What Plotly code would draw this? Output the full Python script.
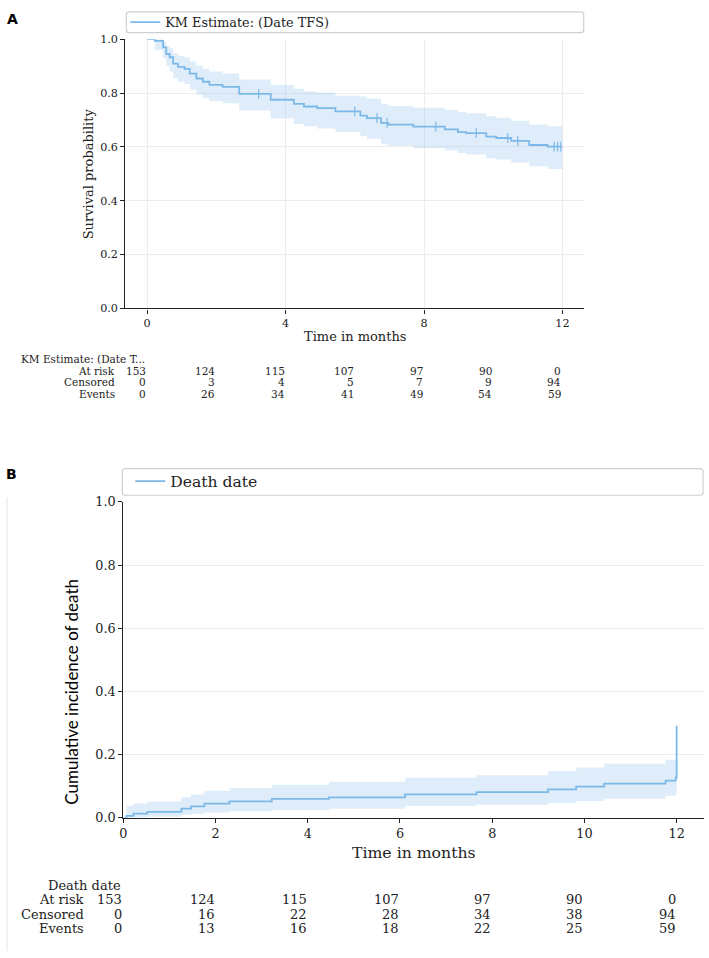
import numpy as np
import plotly.graph_objects as go

# ---------------- data ----------------
# Panel A: Kaplan-Meier estimate (Date TFS)
a_time = [0, 0.22, 0.46, 0.55, 0.65, 0.75, 0.89, 1.08, 1.23, 1.42, 1.61, 1.80, 2.18, 2.66,
          3.57, 4.24, 4.53, 4.91, 5.44, 6.16, 6.35, 6.76, 6.97, 7.69, 8.60, 8.98, 9.22,
          9.80, 10.09, 10.52, 11.04, 11.57, 12.0]
a_surv = [1.0, 0.994, 0.970, 0.945, 0.933, 0.909, 0.897, 0.890, 0.872, 0.854, 0.842, 0.830,
          0.823, 0.797, 0.775, 0.760, 0.750, 0.744, 0.732, 0.716, 0.707, 0.689, 0.683,
          0.675, 0.665, 0.655, 0.651, 0.638, 0.633, 0.622, 0.607, 0.601, 0.601]
a_upper = [1.0, 1.0, 0.990, 0.975, 0.966, 0.948, 0.938, 0.932, 0.917, 0.901, 0.890, 0.880,
           0.873, 0.850, 0.830, 0.816, 0.806, 0.801, 0.790, 0.787, 0.780, 0.760, 0.752,
           0.745, 0.738, 0.730, 0.725, 0.714, 0.708, 0.697, 0.683, 0.677, 0.677]
a_lower = [1.0, 0.960, 0.930, 0.900, 0.880, 0.855, 0.842, 0.834, 0.813, 0.795, 0.782, 0.770,
           0.762, 0.735, 0.705, 0.685, 0.677, 0.668, 0.655, 0.640, 0.630, 0.610, 0.604,
           0.595, 0.587, 0.577, 0.572, 0.558, 0.553, 0.542, 0.528, 0.518, 0.518]
a_censor_time = [3.22, 6.00, 6.64, 6.93, 8.34, 9.51, 10.42, 10.71, 11.76, 11.86, 11.95]

# Panel B: cumulative incidence of death
b_time = [0, 0.07, 0.22, 0.52, 1.26, 1.47, 1.76, 2.30, 3.22, 4.46, 6.11, 7.66, 9.21, 9.82,
          10.43, 11.76, 11.98, 12.0]
b_cif = [0, 0.006, 0.013, 0.019, 0.029, 0.036, 0.045, 0.052, 0.060, 0.065, 0.074, 0.081,
         0.090, 0.099, 0.108, 0.118, 0.127, 0.291]
b_upper = [0, 0.038, 0.045, 0.052, 0.065, 0.074, 0.086, 0.094, 0.105, 0.114, 0.127, 0.135,
           0.148, 0.159, 0.171, 0.184, 0.190, 0.376]
b_lower = [0, 0.0, 0.001, 0.003, 0.010, 0.013, 0.017, 0.021, 0.024, 0.029, 0.037, 0.041,
           0.047, 0.053, 0.060, 0.070, 0.075, 0.210]

# At-risk tables
table_times = [0, 2, 4, 6, 8, 10, 12]
table_rows = ["At risk", "Censored", "Events"]
a_at_risk = [153, 124, 115, 107, 97, 90, 0]
a_censored = [0, 3, 4, 5, 7, 9, 94]
a_events = [0, 26, 34, 41, 49, 54, 59]
b_at_risk = [153, 124, 115, 107, 97, 90, 0]
b_censored = [0, 16, 22, 28, 34, 38, 94]
b_events = [0, 13, 16, 18, 22, 25, 59]

a_xticks = [0, 4, 8, 12]
b_xticks = [0, 2, 4, 6, 8, 10, 12]
y_ticks = [0.0, 0.2, 0.4, 0.6, 0.8, 1.0]

# ---------------- layout geometry (pixels) ----------------
W, H = 709, 958
def px(x):
    return x / W
def py(y):
    return 1 - y / H

A_L, A_R, A_T, A_B = 122, 583, 31.7, 305.2
B_L, B_R, B_T, B_B = 120, 704.3, 501.7, 822.7

LINE = "rgb(125,185,232)"
FILL = "rgba(125,185,232,0.25)"
SERIF = "DejaVu Serif"
INK = "#222222"

fig = go.Figure()

def add_panel(t, est, lo, hi, xa, ya, name, legend):
    fig.add_trace(go.Scatter(x=t, y=lo, mode="lines", line=dict(width=0, shape="hv"),
                             showlegend=False, hoverinfo="skip", xaxis=xa, yaxis=ya))
    fig.add_trace(go.Scatter(x=t, y=hi, mode="lines", line=dict(width=0, shape="hv"),
                             fill="tonexty", fillcolor=FILL, showlegend=False,
                             hoverinfo="skip", xaxis=xa, yaxis=ya))
    fig.add_trace(go.Scatter(x=t, y=est, mode="lines", line=dict(color=LINE, width=1.8, shape="hv"),
                             name=name, legend=legend, xaxis=xa, yaxis=ya))

add_panel(a_time, a_surv, a_lower, a_upper, "x", "y", "KM Estimate: (Date TFS)", "legend")
# censor marks on the KM curve
idx = np.searchsorted(np.array(a_time), np.array(a_censor_time), side="right") - 1
cens_y = [a_surv[i] for i in idx]
fig.add_trace(go.Scatter(x=a_censor_time, y=cens_y, mode="markers",
                         marker=dict(symbol="line-ns-open", size=7, color=LINE,
                                     line=dict(width=1.2, color=LINE)),
                         showlegend=False, hoverinfo="skip", xaxis="x", yaxis="y"))

add_panel(b_time, b_cif, b_lower, b_upper, "x2", "y2", "Death date", "legend2")

axis_common = dict(showline=True, linecolor=INK, linewidth=1.2, ticks="outside", ticklen=4,
                   tickcolor=INK, tickwidth=1, zeroline=False, gridcolor="#ececec",
                   gridwidth=1, mirror=False)

fig.update_layout(
    width=W, height=H, margin=dict(l=0, r=0, t=0, b=0),
    plot_bgcolor="white", paper_bgcolor="white",
    xaxis=dict(domain=[px(A_L), px(A_R)], range=[-0.632, 12.615], anchor="y",
               tickvals=a_xticks, showgrid=True,
               tickfont=dict(family=SERIF, size=11.2, color=INK), **axis_common),
    yaxis=dict(domain=[py(A_B), py(A_T)], range=[0, 1.0], anchor="x",
               tickvals=y_ticks, tickformat=".1f", showgrid=True,
               tickfont=dict(family=SERIF, size=11.2, color=INK), **axis_common),
    xaxis2=dict(domain=[px(B_L), px(B_R)], range=[0, 12.6], anchor="y2",
                tickvals=b_xticks, showgrid=False,
                tickfont=dict(family=SERIF, size=12.8, color=INK), **axis_common),
    yaxis2=dict(domain=[py(B_B), py(B_T)], range=[0, 1.0], anchor="x2",
                tickvals=y_ticks, tickformat=".1f", showgrid=True,
                tickfont=dict(family=SERIF, size=12.8, color=INK), **axis_common),
    legend=dict(x=px(122), y=py(14.5), xanchor="left", yanchor="middle",
                bgcolor="rgba(0,0,0,0)", borderwidth=0,
                font=dict(family=SERIF, size=12.8, color=INK)),
    legend2=dict(x=px(127), y=py(481), xanchor="left", yanchor="middle",
                 bgcolor="rgba(0,0,0,0)", borderwidth=0,
                 font=dict(family=SERIF, size=15.6, color=INK)),
    showlegend=True,
)

# legend boxes (rounded rectangles)
def rounded_box(x0, y0, x1, y1, r=3):
    X = lambda v: px(v)
    Y = lambda v: py(v)
    p = (f"M {X(x0+r)} {Y(y0)} L {X(x1-r)} {Y(y0)} Q {X(x1)} {Y(y0)} {X(x1)} {Y(y0+r)} "
         f"L {X(x1)} {Y(y1-r)} Q {X(x1)} {Y(y1)} {X(x1-r)} {Y(y1)} "
         f"L {X(x0+r)} {Y(y1)} Q {X(x0)} {Y(y1)} {X(x0)} {Y(y1-r)} "
         f"L {X(x0)} {Y(y0+r)} Q {X(x0)} {Y(y0)} {X(x0+r)} {Y(y0)} Z")
    return dict(type="path", path=p, xref="paper", yref="paper",
                line=dict(color="#d0d0d0", width=1.2), fillcolor="rgba(255,255,255,0.8)",
                layer="below")

shapes = [rounded_box(123, 4, 583, 25), rounded_box(119, 468, 703, 495),
          dict(type="line", xref="paper", yref="paper", x0=px(3), x1=px(3), y0=py(497), y1=py(958),
               line=dict(color="#e4e4e4", width=1))]
fig.update_layout(shapes=shapes)

ann = []
def text_at(text, x, y, size, family=SERIF, color=INK, angle=0):
    ann.append(dict(text=text, x=px(x), y=py(y), xref="paper", yref="paper", showarrow=False,
                    xanchor="center", yanchor="middle", textangle=angle,
                    font=dict(family=family, size=size, color=color)))

# panel letters
text_at("<b>A</b>", 9, 11, 14, family="DejaVu Sans", color="black")
text_at("<b>B</b>", 8, 473, 14, family="DejaVu Sans", color="black")
# axis titles
text_at("Time in months", (A_L + A_R) / 2, 334, 13)
text_at("Survival probability", 85, (A_T + A_B) / 2, 13, angle=-90)
text_at("Time in months", (B_L + B_R) / 2, 858, 15.7)
text_at("Cumulative incidence of death", 67, 695, 17, family="Lato", color="black", angle=-90)

def add_table(xref, header, rows_vals, y_header, y_rows, fsize, label_shift):
    ann.append(dict(text=header, x=0, y=py(y_header), xref=xref, yref="paper", xanchor="right",
                    yanchor="middle", showarrow=False, font=dict(family=SERIF, size=fsize, color=INK)))
    for lab, vals, yy in zip(table_rows, rows_vals, y_rows):
        ann.append(dict(text=lab, x=0, y=py(yy), xref=xref, yref="paper", xanchor="right",
                        yanchor="middle", xshift=label_shift, showarrow=False,
                        font=dict(family=SERIF, size=fsize, color=INK)))
        for t, v in zip(table_times, vals):
            ann.append(dict(text=str(v), x=t, y=py(yy), xref=xref, yref="paper", xanchor="right",
                            yanchor="middle", xshift=1, showarrow=False,
                            font=dict(family=SERIF, size=fsize, color=INK)))

add_table("x", "KM Estimate: (Date T...", [a_at_risk, a_censored, a_events],
          356.7, [368.3, 380.0, 391.7], 10.5, -30.5)
add_table("x2", "Death date", [b_at_risk, b_censored, b_events],
          891.7, [906.0, 921.0, 935.0], 13, -37)

fig.update_layout(annotations=ann)
fig.write_html("out.html")
